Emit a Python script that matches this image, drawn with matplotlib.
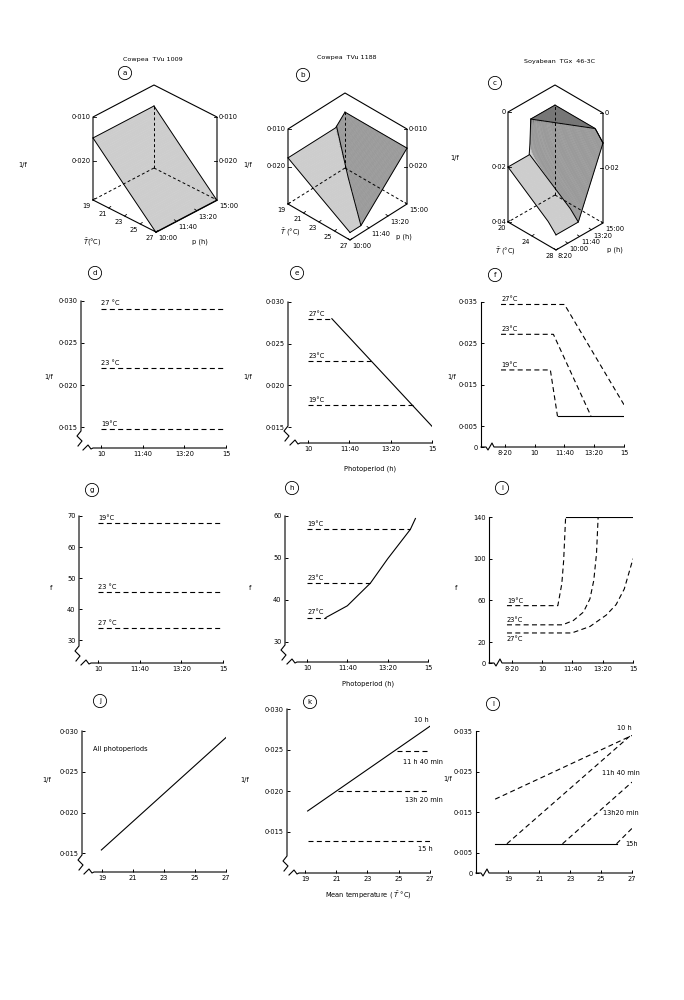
import numpy as np
import matplotlib.pyplot as plt
from matplotlib.collections import PolyCollection

W, H = 684, 1000
plt.rcParams['font.family'] = 'DejaVu Sans'
plt.rcParams['font.size'] = 4.8

# ---------------- values ----------------
temps = [19, 23, 27]

# Cowpea TVu 1009 (a, d, g, j): 1/f independent of photoperiod
tvu1009_rate = [0.0148, 0.0220, 0.0291]
tvu1009_f = [67.6, 45.6, 33.8]
photo_span = [10.0, 15.0]
all_photo_T = [18.95, 27.0]
all_photo_rate = [0.0154, 0.0292]

# Cowpea TVu 1188 (b, e, h, k)
tvu1188_rate = [0.0177, 0.0229, 0.0280]
tvu1188_pcrit = [14.26, 12.55, 10.96]
tvu1188_line_p = [10.96, 15.0]
tvu1188_line_rate = [0.0280, 0.0151]
tvu1188_f = [56.8, 44.0, 35.8]
tvu1188_f_pcrit = [14.27, 12.62, 10.78]
tvu1188_curve_p = [10.78, 11.667, 12.62, 13.333, 14.27, 14.48]
tvu1188_curve_f = [35.8, 38.6, 44.0, 49.8, 56.8, 59.4]
k_10h_T = [19.17, 27.0]
k_10h_rate = [0.01756, 0.0279]
k_dash_start = [24.9, 21.1, 19.17]          # 11h40, 13h20, 15h
k_dash_rate = [0.0249, 0.01995, 0.0139]

# Soyabean TGx 46-3C (f, i, l)
soy_pstart = 8.12
soy_plateau = [0.0186, 0.0272, 0.0344]
soy_pbreak = [10.88, 11.05, 11.67]
soy_pend = [11.28, 13.15, 15.0]
soy_vend = [0.0074, 0.0075, 0.0102]
soy_floor_p = [11.28, 15.0]
soy_floor_rate = 0.0074
soy19_p = [8.06, 10.86, 11.08, 11.18, 11.29]
soy19_f = [55, 55, 76, 98, 140]
soy23_p = [8.06, 11.12, 11.72, 12.27, 12.63, 12.84, 12.99, 13.08]
soy23_f = [36.6, 36.6, 40.8, 48.8, 61.6, 79.2, 104.8, 140]
soy27_p = [8.06, 11.63, 12.63, 13.53, 14.07, 14.52, 15.0]
soy27_f = [28.8, 28.8, 35, 46, 56, 71, 100]
soy_cap_p = [11.29, 15.0]
soy_cap_f = 140
l_start_T = [18.14, 18.9, 22.5, 26.0]        # 10h, 11h40, 13h20, 15h
l_start_rate = [0.0182, 0.0072, 0.0072, 0.0072]
l_end_rate = [0.0339, 0.0342, 0.0224, 0.0110]
l_floor_T = [18.14, 26.0]
l_floor_rate = 0.0072

# Soyabean surface (c)
soy3d_T = [20, 26.7, 28]
soy3d_plateau = [0.0200, 0.0313, 0.0345]
soy3d_pbreak = [11.40, 11.48, 11.50]
soy3d_pend = [11.55, 15.0, 15.0]
soy3d_vend = [0.0073, 0.0073, 0.0109]

photo_ticks = [10, 11 + 40 / 60, 13 + 20 / 60, 15]
photo_labels = ['10', '11:40', '13:20', '15']
soy_ticks = [8 + 20 / 60] + photo_ticks
soy_labels = ['8·20'] + photo_labels
temp_ticks = [19, 21, 23, 25, 27]

LIGHT, DARK, FLOOR = '#cdcdcd', '#9a9a9a', '#767676'
DASH = (0, (4.5, 3))

fig = plt.figure(figsize=(W / 100, H / 100), dpi=100)
ov = fig.add_axes([0, 0, 1, 1])
ov.set_xlim(0, W)
ov.set_ylim(H, 0)
ov.axis('off')
ov.patch.set_visible(False)


# ---------------- 3-D blocks (drawn as an oblique projection) ----------------
def make_proj(B, L, R, hpx, T0, T1, p0, p1, vtop, vbot):
    def proj(T, p, v):
        s = (T1 - np.asarray(T, float)) / (T1 - T0)
        t = (np.asarray(p, float) - p0) / (p1 - p0)
        w = (vbot - np.asarray(v, float)) / (vbot - vtop)
        return B[0] + s * L[0] + t * R[0], B[1] + s * L[1] + t * R[1] - w * hpx
    return proj


def shade(func, T, p):
    dv = float(func(T, p + 0.005) - func(T, p - 0.005))
    if abs(dv) > 1e-7:
        return DARK
    return LIGHT if float(func(T, p)) > 0.012 else FLOOR


def block(proj, T0, T1, p0, p1, vtop, vbot, func, creases,
          lticks, llabels, rticks, rlabels, Tticks, Tlabels, pticks, plabels):
    Tg = np.linspace(T0, T1, 49)
    pg = np.linspace(p0, p1, 61)
    TT, PP = np.meshgrid(Tg, pg, indexing='ij')
    X, Y = proj(TT, PP, func(TT, PP))
    polys, cols, keys = [], [], []
    for i in range(len(Tg) - 1):
        for j in range(len(pg) - 1):
            polys.append([(X[i, j], Y[i, j]), (X[i + 1, j], Y[i + 1, j]),
                          (X[i + 1, j + 1], Y[i + 1, j + 1]), (X[i, j + 1], Y[i, j + 1])])
            Tc, pc = (Tg[i] + Tg[i + 1]) / 2, (pg[j] + pg[j + 1]) / 2
            cols.append(shade(func, Tc, pc))
            keys.append((T1 - Tc) / (T1 - T0) + (pc - p0) / (p1 - p0))
    order = np.argsort(keys)[::-1]
    fc = [cols[k] for k in order]
    ov.add_collection(PolyCollection([polys[k] for k in order], facecolors=fc,
                                     edgecolors=fc, linewidths=0.3, zorder=2))
    # outline of the surface and its creases
    for T in (T0, T1):
        x, y = proj(np.full_like(pg, T), pg, func(np.full_like(pg, T), pg))
        ov.plot(x, y, color='k', lw=0.7, zorder=3)
    for p in (p0, p1):
        x, y = proj(Tg, np.full_like(Tg, p), func(Tg, np.full_like(Tg, p)))
        ov.plot(x, y, color='k', lw=0.7, zorder=3)
    for pc_of_T in creases:
        pc = pc_of_T(Tg)
        x, y = proj(Tg, pc, func(Tg, pc))
        ov.plot(x, y, color='k', lw=0.7, zorder=3)
    # box
    corners = [(T0, p0, vbot), (T0, p0, vtop), (T0, p1, vtop), (T1, p1, vtop),
               (T1, p1, vbot), (T1, p0, vbot), (T0, p0, vbot)]
    hx, hy = zip(*[proj(*c) for c in corners])
    ov.plot(hx, hy, color='k', lw=0.8, zorder=4)
    bb = proj(T0, p1, vbot)
    for c in [(T0, p0, vbot), (T1, p1, vbot), (T0, p1, float(func(T0, p1)))]:
        e = proj(*c)
        ov.plot([bb[0], e[0]], [bb[1], e[1]], color='k', lw=0.7, ls=(0, (3, 2.5)), zorder=4)
    # ticks and labels
    for v, lab in zip(lticks, llabels):
        x, y = proj(T0, p0, v)
        ov.plot([x, x + 3], [y, y], color='k', lw=0.6, zorder=4)
        ov.text(x - 2, y, lab, ha='right', va='center')
    for v, lab in zip(rticks, rlabels):
        x, y = proj(T1, p1, v)
        ov.plot([x - 3, x], [y, y], color='k', lw=0.6, zorder=4)
        ov.text(x + 2, y, lab, ha='left', va='center')
    for T, lab in zip(Tticks, Tlabels):
        x, y = proj(T, p0, vbot)
        ov.plot([x, x + 2], [y, y - 1.5], color='k', lw=0.6, zorder=4)
        ov.text(x - 2, y + 6, lab, ha='right', va='center')
    for p, lab in zip(pticks, plabels):
        x, y = proj(T1, p, vbot)
        ov.plot([x, x - 2], [y, y - 1.5], color='k', lw=0.6, zorder=4)
        ov.text(x + 2, y + 6, lab, ha='left', va='center')


p_lab3d = ['10:00', '11:40', '13:20', '15:00']

# (a) TVu 1009
proj_a = make_proj((156, 232), (-63, -32), (61, -32), 83, 19, 27, 10, 15, 0.010, 0.029)
block(proj_a, 19, 27, 10, 15, 0.010, 0.029,
      lambda T, p: np.interp(T, temps, tvu1009_rate) + 0 * np.asarray(p, float), [],
      [0.010, 0.020], ['0·010', '0·020'], [0.010, 0.020], ['0·010', '0·020'],
      temp_ticks, [str(t) for t in temp_ticks], photo_ticks, p_lab3d)

# (b) TVu 1188
proj_b = make_proj((350, 240), (-62, -36), (57, -36), 75, 19, 27, 10, 15, 0.010, 0.030)
block(proj_b, 19, 27, 10, 15, 0.010, 0.030,
      lambda T, p: np.minimum(np.interp(T, temps, tvu1188_rate),
                              np.interp(p, tvu1188_line_p, tvu1188_line_rate)),
      [lambda T: np.interp(T, temps, tvu1188_pcrit)],
      [0.010, 0.020], ['0·010', '0·020'], [0.010, 0.020], ['0·010', '0·020'],
      temp_ticks, [str(t) for t in temp_ticks], photo_ticks, p_lab3d)


# (c) Soyabean
def soy_rate(T, p):
    plat = np.interp(T, soy3d_T, soy3d_plateau)
    pb = np.interp(T, soy3d_T, soy3d_pbreak)
    pe = np.interp(T, soy3d_T, soy3d_pend)
    ve = np.interp(T, soy3d_T, soy3d_vend)
    p = np.asarray(p, float)
    ramp = plat + (p - pb) / (pe - pb) * (ve - plat)
    return np.where(p <= pb, plat, np.where(p >= pe, ve, ramp))


proj_c = make_proj((556, 250), (-48, -28), (47, -27), 110, 20, 28, 8 + 20 / 60, 15, 0.0, 0.040)
block(proj_c, 20, 28, 8 + 20 / 60, 15, 0.0, 0.040, soy_rate,
      [lambda T: np.interp(T, soy3d_T, soy3d_pbreak), lambda T: np.interp(T, soy3d_T, soy3d_pend)],
      [0.0, 0.02, 0.04], ['0', '0·02', '0·04'], [0.0, 0.02], ['0', '0·02'],
      [20, 24, 28], ['20', '24', '28'], soy_ticks, ['8:20'] + p_lab3d)


# ---------------- 2-D panels ----------------
def panel(box, xlim, ylim, xticks, xlabels, yticks, ylabels, ybreak=True):
    l, t, r, b = box
    ax = fig.add_axes([l / W, 1 - b / H, (r - l) / W, (b - t) / H])
    ax.set_xlim(*xlim)
    ax.set_ylim(*ylim)
    for s in ax.spines.values():
        s.set_visible(False)
    ax.set_xticks(xticks, xlabels)
    ax.set_yticks(yticks, ylabels)
    ax.tick_params(direction='in', length=2.5, width=0.7, pad=2.5, labelsize=4.8)
    wpx, hpx = r - l, b - t
    kw = dict(transform=ax.transAxes, color='k', lw=0.8, clip_on=False)
    if ybreak:
        ax.plot([0, 0, -4 / wpx, 1 / wpx, -3 / wpx], [1, 17 / hpx, 12 / hpx, 7 / hpx, 2 / hpx], **kw)
        ax.plot([2 / wpx, 7 / wpx, 10 / wpx, 12 / wpx, 1], [-2 / hpx, 3 / hpx, -1 / hpx, 0, 0], **kw)
    else:
        ax.plot([0, 0], [1, 0], **kw)
        ax.plot([0, 5 / wpx, 7 / wpx, 11 / wpx, 13 / wpx, 1], [0, 0, -3 / hpx, 4 / hpx, 0, 0], **kw)
    return ax


def tlabel(ax, x, y, s, below=False):
    ax.annotate(s, (x, y), xytext=(0, -2.5 if below else 1.5), textcoords='offset points',
                ha='left', va='top' if below else 'bottom')


dkw = dict(color='k', lw=0.8, ls=DASH)
skw = dict(color='k', lw=0.8)

# (d)
ax = panel((81, 301, 226, 448), (9.2, 15), (0.0125, 0.030), photo_ticks, photo_labels,
           [0.015, 0.020, 0.025, 0.030], ['0·015', '0·020', '0·025', '0·030'])
for r, lab in zip(tvu1009_rate, ['19°C', '23 °C', '27 °C']):
    ax.plot(photo_span, [r, r], **dkw)
    tlabel(ax, photo_span[0], r, lab)

# (e)
ax = panel((288, 302, 432, 443), (9.19, 15), (0.0131, 0.030), photo_ticks, photo_labels,
           [0.015, 0.020, 0.025, 0.030], ['0·015', '0·020', '0·025', '0·030'])
for r, pc, lab in zip(tvu1188_rate, tvu1188_pcrit, ['19°C', '23°C', '27°C']):
    ax.plot([10, pc], [r, r], **dkw)
    tlabel(ax, 10, r, lab)
ax.plot(tvu1188_line_p, tvu1188_line_rate, **skw)

# (f)
ax = panel((481, 302, 624, 447), (7.0, 15), (0, 0.035), soy_ticks, soy_labels,
           [0, 0.005, 0.015, 0.025, 0.035], ['0', '0·005', '0·015', '0·025', '0·035'], ybreak=False)
for pl, pb, pe, ve, lab in zip(soy_plateau, soy_pbreak, soy_pend, soy_vend, ['19°C', '23°C', '27°C']):
    ax.plot([soy_pstart, pb, pe], [pl, pl, ve], **dkw)
    tlabel(ax, soy_pstart, pl, lab)
ax.plot(soy_floor_p, [soy_floor_rate] * 2, **skw)

# (g)
ax = panel((79, 516, 223, 663), (9.24, 15), (22.6, 70), photo_ticks, photo_labels,
           [30, 40, 50, 60, 70], ['30', '40', '50', '60', '70'])
for f, lab in zip(tvu1009_f, ['19°C', '23 °C', '27 °C']):
    ax.plot(photo_span, [f, f], **dkw)
    tlabel(ax, photo_span[0], f, lab)

# (h)
ax = panel((285, 516, 428, 662), (9.09, 15), (25.2, 60), photo_ticks, photo_labels,
           [30, 40, 50, 60], ['30', '40', '50', '60'])
for f, pc, lab in zip(tvu1188_f, tvu1188_f_pcrit, ['19°C', '23°C', '27°C']):
    ax.plot([10, pc], [f, f], **dkw)
    tlabel(ax, 10, f, lab)
ax.plot(tvu1188_curve_p, tvu1188_curve_f, **skw)

# (i)
ax = panel((489, 517, 633, 663), (7.07, 15), (0, 140), soy_ticks, soy_labels,
           [0, 20, 60, 100, 140], ['0', '20', '60', '100', '140'], ybreak=False)
for pp, ff, lab, below in [(soy19_p, soy19_f, '19°C', False), (soy23_p, soy23_f, '23°C', False),
                           (soy27_p, soy27_f, '27°C', True)]:
    ax.plot(pp, ff, **dkw)
    tlabel(ax, pp[0], ff[0], lab, below)
ax.plot(soy_cap_p, [soy_cap_f] * 2, **skw)

# (j)
ax = panel((82, 731, 226, 872), (17.7, 27), (0.0127, 0.030), temp_ticks, [str(t) for t in temp_ticks],
           [0.015, 0.020, 0.025, 0.030], ['0·015', '0·020', '0·025', '0·030'])
ax.plot(all_photo_T, all_photo_rate, **skw)
ax.text(18.4, 0.0278, 'All photoperiods', ha='left', va='center')

# (k)
ax = panel((287, 709, 430, 873), (17.85, 27), (0.010, 0.030), temp_ticks, [str(t) for t in temp_ticks],
           [0.015, 0.020, 0.025, 0.030], ['0·015', '0·020', '0·025', '0·030'])
ax.plot(k_10h_T, k_10h_rate, **skw)
for t0, r in zip(k_dash_start, k_dash_rate):
    ax.plot([t0, 27.0], [r, r], **dkw)
for x, y, s in [(26.9, 0.0287, '10 h'), (27.8, 0.0235, '11 h 40 min'),
                (27.85, 0.0189, '13h 20 min'), (27.2, 0.0129, '15 h')]:
    ax.text(x, y, s, ha='right', va='center')

# (l)
ax = panel((476, 731, 632, 873), (16.9, 27), (0, 0.035), temp_ticks, [str(t) for t in temp_ticks],
           [0, 0.005, 0.015, 0.025, 0.035], ['0', '0·005', '0·015', '0·025', '0·035'], ybreak=False)
for t0, r0, r1 in zip(l_start_T, l_start_rate, l_end_rate):
    ax.plot([t0, 27.0], [r0, r1], **dkw)
ax.plot(l_floor_T, [l_floor_rate] * 2, **skw)
for x, y, s in [(27.0, 0.0358, '10 h'), (27.5, 0.0247, '11h 40 min'),
                (27.45, 0.0148, '13h20 min'), (27.4, 0.0072, '15h')]:
    ax.text(x, y, s, ha='right', va='center')

# ---------------- titles, panel letters, axis names ----------------
for x, y, s in [(153, 60, 'Cowpea  TVu 1009'), (347, 58, 'Cowpea  TVu 1188'),
                (560, 62, 'Soyabean  TGx  46-3C')]:
    ov.text(x, y, s, ha='center', va='center', fontsize=4.6)

for x, y, s in [(125, 73, 'a'), (303, 75, 'b'), (495, 83, 'c'), (95, 273, 'd'), (297, 273, 'e'),
                (495, 275, 'f'), (92, 490, 'g'), (292, 488, 'h'), (502, 488, 'i'),
                (100, 701, 'j'), (310, 702, 'k'), (493, 704, 'l')]:
    ov.text(x, y, s, ha='center', va='center', fontsize=5.2,
            bbox=dict(boxstyle='circle,pad=0.5', fc='none', ec='k', lw=0.6))

for x, y, s in [(23, 165, '1/f'), (248, 165, '1/f'), (455, 158, '1/f'),
                (49, 377, '1/f'), (248, 377, '1/f'), (452, 377, '1/f'),
                (51, 588, 'f'), (250, 588, 'f'), (456, 588, 'f'),
                (47, 780, '1/f'), (245, 780, '1/f'), (448, 779, '1/f')]:
    ov.text(x, y, s, ha='center', va='center')

for x, y, s in [(92, 242, r'$\bar{T}$(°C)'), (200, 242, 'p (h)'),
                (290, 232, r'$\bar{T}$ (°C)'), (404, 237, 'p (h)'),
                (505, 251, r'$\bar{T}$ (°C)'), (615, 250, 'p (h)'),
                (370, 469, 'Photoperiod (h)'), (368, 684, 'Photoperiod (h)'),
                (368, 895, r'Mean temperature ( $\bar{T}$ °C)')]:
    ov.text(x, y, s, ha='center', va='center')

fig.savefig('out.png', dpi=100)
